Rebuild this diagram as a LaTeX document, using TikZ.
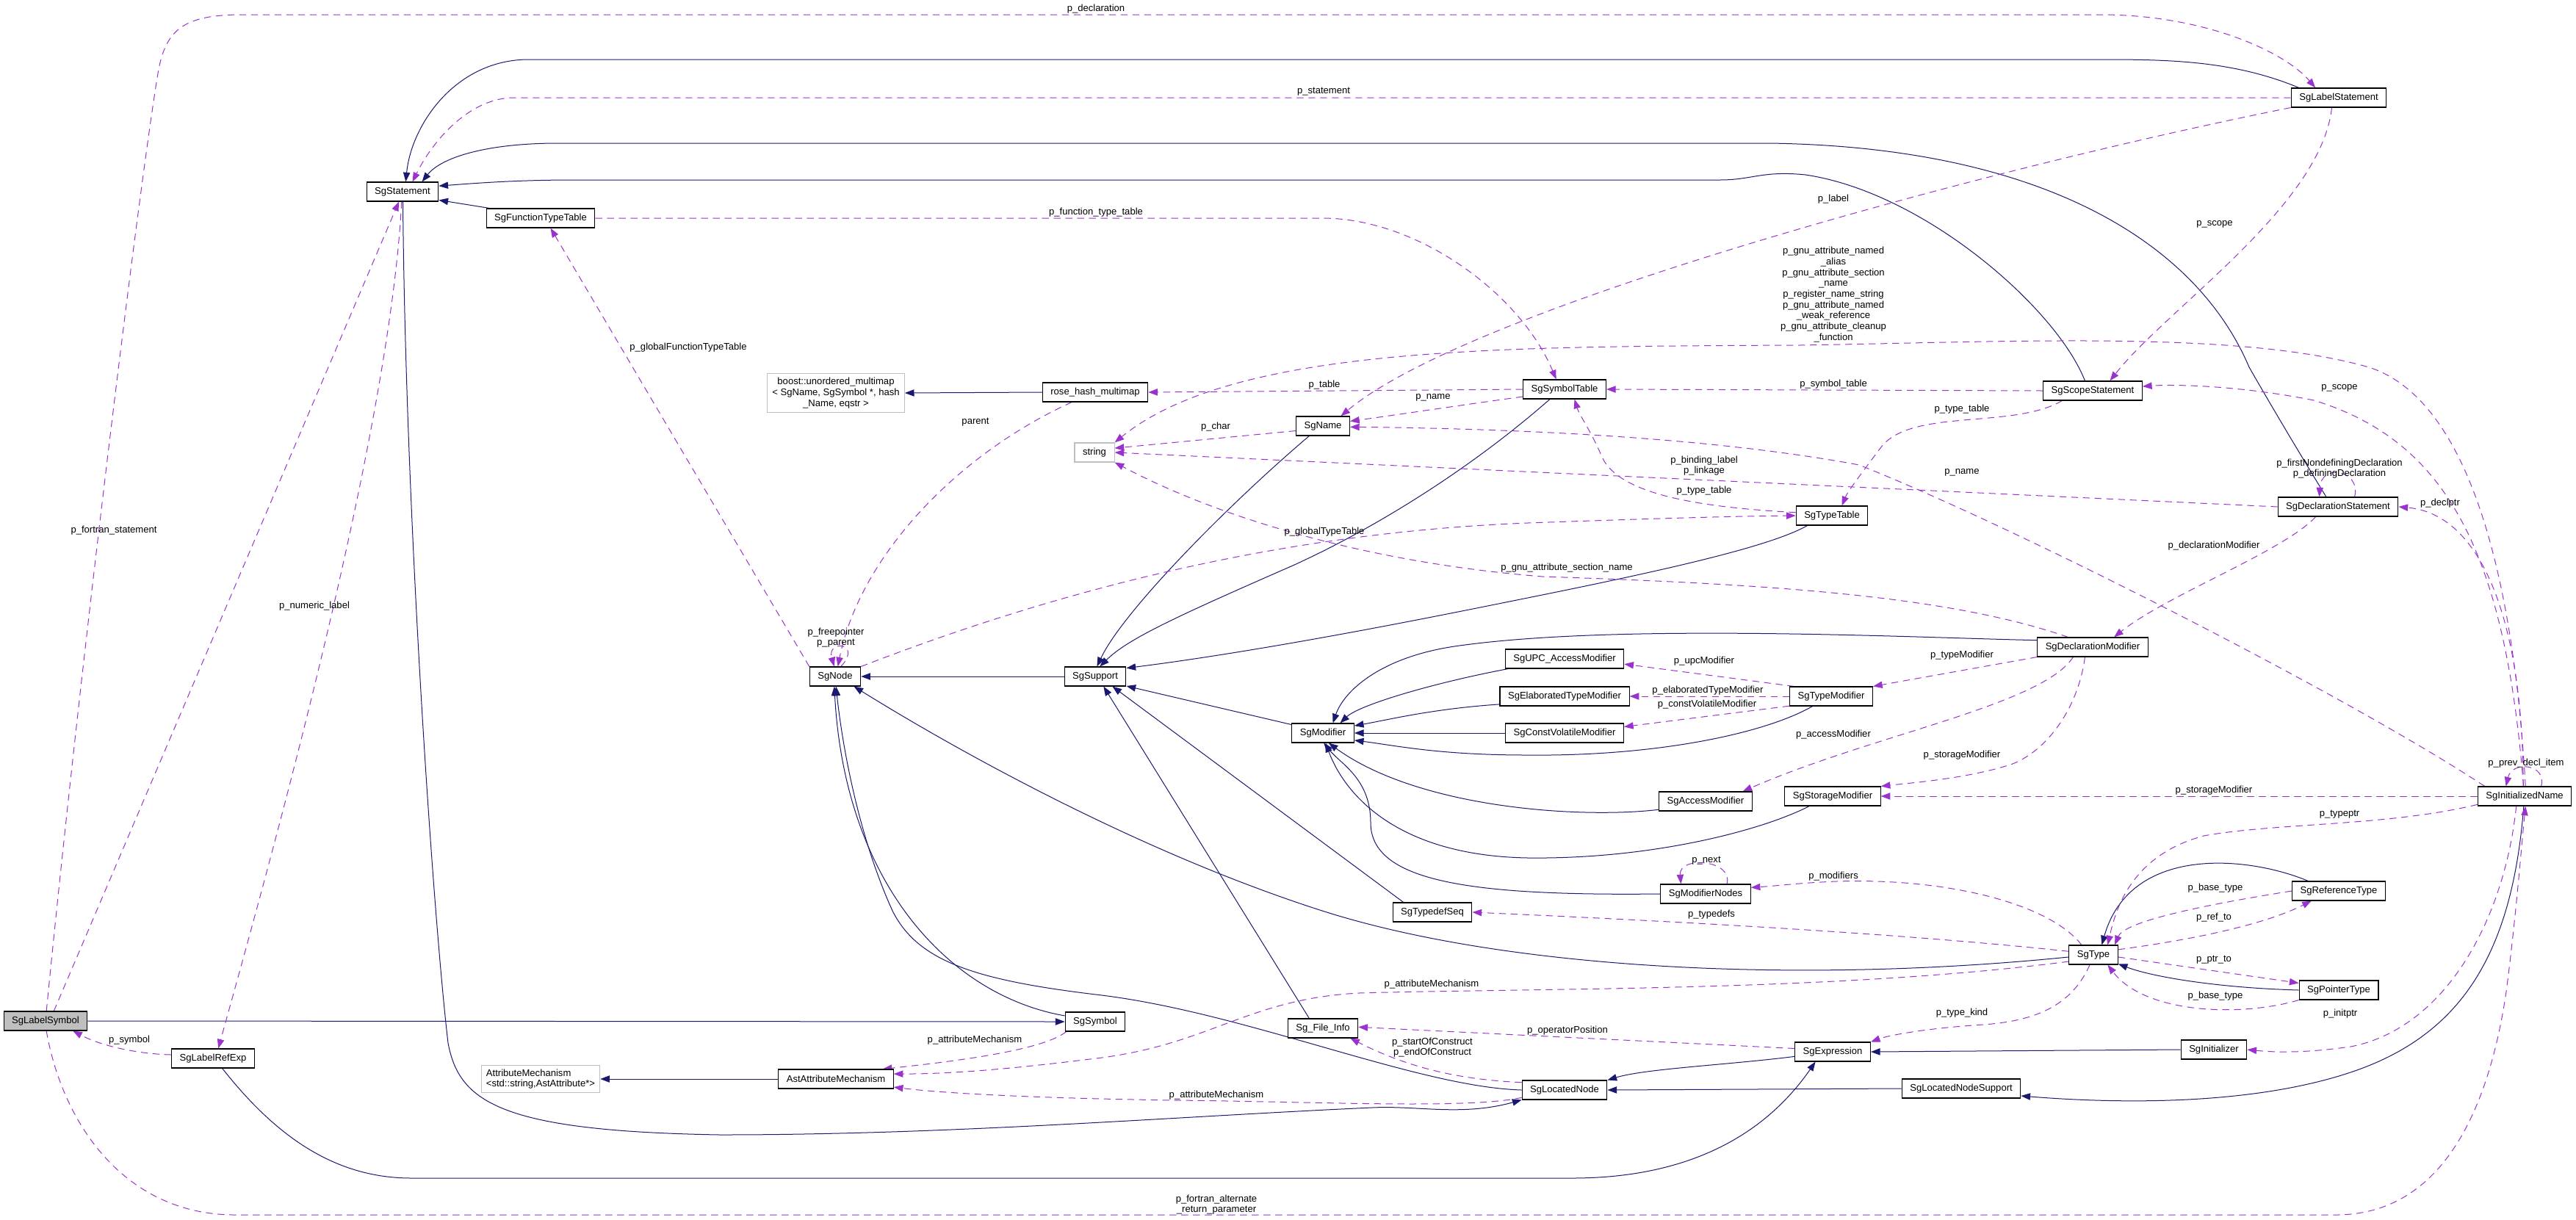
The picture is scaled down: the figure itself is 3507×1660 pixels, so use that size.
\documentclass[tikz,border=0pt]{standalone}
\usepackage{fontspec}
\setmainfont{Liberation Sans}
\usetikzlibrary{arrows.meta, backgrounds}
\definecolor{inhblue}{HTML}{191970}
\definecolor{usepurple}{HTML}{9A32CD}
\definecolor{extgrey}{HTML}{BFBFBF}
\newcommand\dotfont{\fontsize{9.8}{11}\selectfont}

\begin{document}
\begin{tikzpicture}[
    x=0.75pt, y=-0.75pt,
    cls/.style   = {rectangle, draw=black, line width=0.8pt, fill=white, font=\dotfont,
                    minimum height=19.5pt, inner xsep=8.3pt, inner ysep=2pt},
    ext/.style   = {cls, draw=extgrey},
    focus/.style = {cls, fill=extgrey},
    inh/.style   = {-{Triangle[length=9.5pt, width=7pt]}, line width=0.75pt, color=inhblue},
    uses/.style  = {-{Triangle[length=9.5pt, width=7pt]}, line width=0.75pt, color=usepurple,
                    dash pattern=on 7pt off 5pt},
    lbl/.style   = {font=\dotfont, inner sep=0pt, align=center}
  ]
  \useasboundingbox (0,0) rectangle (3507,1660);

  % ── Classes ───────────────────────────────────────────────────────────────
  \node[focus] (lblsym)   at (62,1390)   {SgLabelSymbol};
  \node[cls] (lblref)     at (290,1441)  {SgLabelRefExp};
  \node[cls] (stmt)       at (548,261)   {SgStatement};
  \node[cls] (fntab)      at (736,297)   {SgFunctionTypeTable};
  \node[ext, align=left, inner xsep=5pt, inner ysep=4pt] (attrmech) at (736,1469)
       {AttributeMechanism\\<std::string,AstAttribute*>};
  \node[cls] (astattr)    at (1138,1469) {AstAttributeMechanism};
  \node[ext, align=center, inner xsep=5pt, inner ysep=4pt] (boost) at (1138,535)
       {boost::unordered\_multimap\\< SgName, SgSymbol *, hash\\\_Name, eqstr >};
  \node[cls] (sgnode)     at (1137,921)  {SgNode};
  \node[cls] (rosehash)   at (1491,534)  {rose\_hash\_multimap};
  \node[ext] (string)     at (1490,616)  {string};
  \node[cls] (support)    at (1491,921)  {SgSupport};
  \node[cls] (symbol)     at (1491,1391) {SgSymbol};
  \node[cls] (name)       at (1801,580)  {SgName};
  \node[cls] (modifier)   at (1801,998)  {SgModifier};
  \node[cls] (fileinfo)   at (1801,1400) {Sg\_File\_Info};
  \node[cls] (typedefseq) at (1950,1242) {SgTypedefSeq};
  \node[cls] (symtab)     at (2130,530)  {SgSymbolTable};
  \node[cls] (upc)        at (2130,897)  {SgUPC\_AccessModifier};
  \node[cls] (elab)       at (2130,948)  {SgElaboratedTypeModifier};
  \node[cls] (cv)         at (2130,998)  {SgConstVolatileModifier};
  \node[cls] (located)    at (2130,1484) {SgLocatedNode};
  \node[cls] (access)     at (2322,1091) {SgAccessModifier};
  \node[cls] (modnodes)   at (2322,1217) {SgModifierNodes};
  \node[cls] (typetab)    at (2494,702)  {SgTypeTable};
  \node[cls] (typemod)    at (2493,948)  {SgTypeModifier};
  \node[cls] (storage)    at (2495,1084) {SgStorageModifier};
  \node[cls] (expr)       at (2495,1432) {SgExpression};
  \node[cls] (locsup)     at (2670,1482) {SgLocatedNodeSupport};
  \node[cls] (scope)      at (2849,532)  {SgScopeStatement};
  \node[cls] (declmod)    at (2849,881)  {SgDeclarationModifier};
  \node[cls] (type)       at (2850,1300) {SgType};
  \node[cls] (initzr)     at (3014,1429) {SgInitializer};
  \node[cls] (lblstmt)    at (3184,133)  {SgLabelStatement};
  \node[cls] (declstmt)   at (3183,690)  {SgDeclarationStatement};
  \node[cls] (reftype)    at (3184,1213) {SgReferenceType};
  \node[cls] (ptrtype)    at (3184,1348) {SgPointerType};
  \node[cls] (initname)   at (3437,1084) {SgInitializedName};

  \begin{scope}[on background layer]
  % ── Inheritance ───────────────────────────────────────────────────────────
  \draw[inh] (lblstmt.166) .. controls (3040,82) and (2950,81) .. (2858,81) -- (720,81)
             .. controls (620,81) and (560,170) .. (stmt.72);
  \draw[inh] (declstmt.140) .. controls (3120,600) and (3085,540) .. (3062,500)
             .. controls (2990,330) and (2780,200) .. (2408,195) -- (760,195)
             .. controls (660,195) and (600,215) .. (stmt.27);
  \draw[inh] (scope.128) .. controls (2800,420) and (2620,262) .. (2458,238)
             .. controls (2400,232) and (2385,245) .. (2342,245) -- (780,245)
             .. controls (700,245) and (640,250) .. (stmt.9);
  \draw[inh] (fntab.169) -- (stmt.-13);
  \draw[inh] (stmt.-88) .. controls (552,700) and (590,1250) .. (610,1420)
             .. controls (625,1500) and (680,1540) .. (980,1545)
             .. controls (1300,1545) and (1600,1520) .. (1868,1508)
             .. controls (1930,1505) and (1990,1520) .. (located.south west);
  \draw[inh] (lblref.-47) .. controls (370,1540) and (450,1604) .. (560,1604) -- (2140,1604)
             .. controls (2330,1604) and (2420,1520) .. (expr.-150);
  \draw[inh] (rosehash.west) -- (boost.east);
  \draw[inh] (support.west) -- (sgnode.east);
  \draw[inh] (lblsym.east) -- (symbol.west);
  \draw[inh] (astattr.west) -- (attrmech.east);
  \draw[inh] (symbol.169) .. controls (1290,1355) and (1150,1200) .. (sgnode.-95);
  \draw[inh] (located.west) .. controls (1930,1480) and (1700,1380) .. (1500,1355)
             .. controls (1330,1335) and (1250,1310) .. (1215,1240)
             .. controls (1165,1130) and (1145,1000) .. (sgnode.-85);
  \draw[inh] (type.185) .. controls (2450,1340) and (2050,1320) .. (1800,1240)
             .. controls (1550,1160) and (1300,1020) .. (sgnode.-28);
  \draw[inh] (name.-144) .. controls (1680,680) and (1530,830) .. (support.80);
  \draw[inh] (symtab.-146) .. controls (2000,640) and (1870,720) .. (1760,770)
             .. controls (1600,840) and (1535,870) .. (support.65);
  \draw[inh] (typetab.-158) .. controls (2400,750) and (2200,790) .. (2000,830)
             .. controls (1800,870) and (1650,895) .. (support.15);
  \draw[inh] (modifier.165) -- (support.-17);
  \draw[inh] (fileinfo.144) -- (support.-50);
  \draw[inh] (typedefseq.161) -- (support.-30);
  \draw[inh] (upc.190) .. controls (1950,930) and (1850,960) .. (modifier.30);
  \draw[inh] (declmod.173) .. controls (2600,868) and (2200,848) .. (1980,880)
             .. controls (1880,895) and (1830,940) .. (modifier.45);
  \draw[inh] (elab.187) .. controls (1950,965) and (1890,980) .. (modifier.13);
  \draw[inh] (cv.west) -- (modifier.east);
  \draw[inh] (typemod.-152) .. controls (2400,1000) and (2250,1030) .. (2078,1028)
             .. controls (1960,1028) and (1900,1015) .. (modifier.-13);
  \draw[inh] (access.190) .. controls (2150,1115) and (1930,1100) .. (modifier.-60);
  \draw[inh] (storage.-157) .. controls (2400,1130) and (2250,1170) .. (2080,1168)
             .. controls (1900,1165) and (1830,1080) .. (modifier.-75);
  \draw[inh] (modnodes.west) .. controls (2000,1220) and (1866,1200) .. (1866,1120)
             .. controls (1866,1060) and (1825,1040) .. (modifier.-85);
  \draw[inh] (expr.187) .. controls (2350,1450) and (2240,1455) .. (located.north east);
  \draw[inh] (locsup.west) -- (located.east);
  \draw[inh] (initzr.west) -- (expr.east);
  \draw[inh] (initname.-95) .. controls (3420,1300) and (3350,1410) .. (3200,1460)
             .. controls (3050,1510) and (2850,1500) .. (locsup.-7);
  \draw[inh] (reftype.162) .. controls (3060,1165) and (2900,1150) .. (type.50);
  \draw[inh] (ptrtype.west) .. controls (3020,1345) and (2930,1330) .. (type.-20);

  % ── Members ───────────────────────────────────────────────────────────────
  \draw[uses] (lblsym.85) .. controls (110,900) and (190,250) .. (215,100)
              .. controls (225,40) and (250,20) .. (330,20) -- (2860,20)
              .. controls (3000,20) and (3110,70) .. (lblstmt.157);
  \draw[uses] (lblsym.50) -- (stmt.-110);
  \draw[uses] (stmt.-95) .. controls (530,600) and (360,1200) .. (lblref.62);
  \draw[uses] (lblref.175) .. controls (190,1435) and (140,1425) .. (lblsym.-20);
  \draw[uses] (lblsym.-85) .. controls (85,1530) and (170,1654) .. (320,1654) -- (3180,1654)
              .. controls (3330,1654) and (3390,1500) .. (3412,1350)
              .. controls (3425,1250) and (3432,1160) .. (initname.-85);
  \draw[uses] (lblstmt.west) -- (700,133) .. controls (640,133) and (590,190) .. (stmt.45);
  \draw[uses] (lblstmt.south west) .. controls (2700,230) and (2000,420) .. (name.29);
  \draw[uses] (lblstmt.-125) .. controls (3160,280) and (2950,420) .. (scope.30);
  \draw[uses] (initname.96) .. controls (3410,750) and (3330,600) .. (3150,545)
              .. controls (3050,525) and (2960,523) .. (scope.5);
  \draw[uses] (scope.west) -- (symtab.east);
  \draw[uses] (scope.-162) .. controls (2740,585) and (2600,555) .. (2560,610)
              .. controls (2530,650) and (2515,670) .. (typetab.45);
  \draw[uses] (fntab.east) -- (1800,297) .. controls (1930,297) and (2070,400) .. (symtab.130);
  \draw[uses] (symtab.west) -- (rosehash.east);
  \draw[uses] (symtab.190) .. controls (2000,550) and (1900,565) .. (name.10);
  \draw[uses] (name.190) -- (string.12);
  \draw[uses] (initname.166) .. controls (3200,950) and (2750,720) .. (2531,633)
              .. controls (2300,590) and (2000,583) .. (name.-2);
  \draw[uses] (declstmt.west) -- (string.east);
  \draw[uses] (initname.85) .. controls (3420,750) and (3350,540) .. (3225,500)
              .. controls (3050,450) and (2750,465) .. (2450,470)
              .. controls (2050,472) and (1680,470) .. (string.north east);
  \draw[uses] (declmod.158) .. controls (2650,810) and (2400,795) .. (2100,785)
              .. controls (1850,765) and (1650,700) .. (string.south east);
  \draw[uses] (sgnode.north east) .. controls (1450,800) and (1750,725) .. (2080,712)
              .. controls (2250,706) and (2350,703) .. (typetab.west);
  \draw[uses] (typetab.175) .. controls (2300,690) and (2200,670) .. (2180,620)
              .. controls (2165,585) and (2150,565) .. (symtab.-45);
  \draw[uses] (initname.98) .. controls (3435,850) and (3380,700) .. (declstmt.east);
  \draw[uses] (declstmt.31) .. controls (3215,640) and (3160,630) .. (declstmt.152);
  \draw[uses] (declstmt.-156) .. controls (3110,750) and (2950,810) .. (declmod.25);
  \draw[uses] (declmod.south west) -- (typemod.north east);
  \draw[uses] (declmod.-153) .. controls (2780,960) and (2550,1000) .. (access.15);
  \draw[uses] (declmod.-128) .. controls (2830,960) and (2790,1020) .. (2740,1040)
              .. controls (2680,1060) and (2600,1066) .. (storage.north east);
  \draw[uses] (typemod.165) -- (upc.-5);
  \draw[uses] (typemod.west) -- (elab.east);
  \draw[uses] (typemod.-167) -- (cv.6);
  \draw[uses] (initname.west) -- (storage.east);
  \draw[uses] (initname.31) .. controls (3468,1040) and (3420,1035) .. (initname.152);
  \draw[uses] (initname.190) .. controls (3250,1125) and (3100,1120) .. (3000,1138)
              .. controls (2900,1165) and (2880,1240) .. (type.35);
  \draw[uses] (modnodes.25) .. controls (2360,1170) and (2285,1165) .. (modnodes.158);
  \draw[uses] (type.140) .. controls (2790,1230) and (2650,1195) .. (2500,1200)
              .. controls (2450,1202) and (2420,1206) .. (modnodes.8);
  \draw[uses] (type.172) .. controls (2600,1272) and (2300,1255) .. (typedefseq.east);
  \draw[uses] (reftype.west) .. controls (2950,1240) and (2890,1260) .. (type.25);
  \draw[uses] (type.12) .. controls (2980,1280) and (3080,1260) .. (reftype.-160);
  \draw[uses] (type.-5) -- (ptrtype.170);
  \draw[uses] (ptrtype.south west) .. controls (3050,1385) and (2920,1380) .. (type.-35);
  \draw[uses] (type.-110) .. controls (2820,1370) and (2770,1390) .. (2700,1395)
              .. controls (2620,1400) and (2570,1410) .. (expr.north east);
  \draw[uses] (initname.-130) .. controls (3410,1250) and (3330,1400) .. (3200,1425)
              .. controls (3130,1435) and (3090,1432) .. (initzr.east);
  \draw[uses] (type.-165) .. controls (2500,1350) and (2100,1345) .. (1850,1352)
              .. controls (1700,1360) and (1650,1420) .. (1500,1440)
              .. controls (1380,1455) and (1300,1462) .. (astattr.5);
  \draw[uses] (symbol.-161) .. controls (1420,1430) and (1300,1445) .. (astattr.12);
  \draw[uses] (located.-170) .. controls (2000,1510) and (1800,1500) .. (1600,1498)
              .. controls (1400,1495) and (1280,1488) .. (astattr.-8);
  \draw[uses] (located.170) .. controls (1990,1470) and (1920,1455) .. (fileinfo.-20);
  \draw[uses] (expr.175) -- (fileinfo.2);
  \draw[uses] (sgnode.60) .. controls (1175,875) and (1125,870) .. (sgnode.95);
  \draw[uses] (rosehash.-157) .. controls (1300,620) and (1170,760) .. (sgnode.75);
  \draw[uses] (sgnode.north west) -- (fntab.-45);
  \end{scope}

  % ── Member labels ─────────────────────────────────────────────────────────
  \node[lbl] (lDecl)     at (1492,12)   {p\_declaration};
  \node[lbl] (lStmt)     at (1802,125)  {p\_statement};
  \node[lbl] (lFnTab)    at (1492,289)  {p\_function\_type\_table};
  \node[lbl] (lLabel)    at (2496,271)  {p\_label};
  \node[lbl] (lScopeA)   at (3015,305)  {p\_scope};
  \node[lbl] (lGnu)      at (2496,401)  {p\_gnu\_attribute\_named\\\_alias\\p\_gnu\_attribute\_section\\\_name\\p\_register\_name\_string\\p\_gnu\_attribute\_named\\\_weak\_reference\\p\_gnu\_attribute\_cleanup\\\_function};
  \node[lbl] (lFortS)    at (155,722)   {p\_fortran\_statement};
  \node[lbl] (lGlobFn)   at (937,473)   {p\_globalFunctionTypeTable};
  \node[lbl] (lNumLbl)   at (428,825)   {p\_numeric\_label};
  \node[lbl] (lParent)   at (1328,575)  {parent};
  \node[lbl] (lTable)    at (1803,524)  {p\_table};
  \node[lbl] (lNameA)    at (1951,541)  {p\_name};
  \node[lbl] (lChar)     at (1655,581)  {p\_char};
  \node[lbl] (lSymTab)   at (2496,523)  {p\_symbol\_table};
  \node[lbl] (lTypeTabA) at (2671,557)  {p\_type\_table};
  \node[lbl] (lScopeB)   at (3185,528)  {p\_scope};
  \node[lbl] (lBind)     at (2320,634)  {p\_binding\_label\\p\_linkage};
  \node[lbl] (lTypeTabB) at (2320,668)  {p\_type\_table};
  \node[lbl] (lNameB)    at (2671,643)  {p\_name};
  \node[lbl] (lDefDecl)  at (3185,638)  {p\_firstNondefiningDeclaration\\p\_definingDeclaration};
  \node[lbl] (lDeclPtr)  at (3322,685)  {p\_declptr};
  \node[lbl] (lGlobTT)   at (1803,724)  {p\_globalTypeTable};
  \node[lbl] (lDeclMod)  at (3014,743)  {p\_declarationModifier};
  \node[lbl] (lSection)  at (2133,773)  {p\_gnu\_attribute\_section\_name};
  \node[lbl] (lFree)     at (1138,868)  {p\_freepointer\\p\_parent};
  \node[lbl] (lTypeMod)  at (2671,892)  {p\_typeModifier};
  \node[lbl] (lUpc)      at (2320,900)  {p\_upcModifier};
  \node[lbl] (lElab)     at (2325,940)  {p\_elaboratedTypeModifier};
  \node[lbl] (lCv)       at (2324,959)  {p\_constVolatileModifier};
  \node[lbl] (lAccess)   at (2496,1000) {p\_accessModifier};
  \node[lbl] (lStorA)    at (2671,1028) {p\_storageModifier};
  \node[lbl] (lPrev)     at (3439,1039) {p\_prev\_decl\_item};
  \node[lbl] (lStorB)    at (3014,1076) {p\_storageModifier};
  \node[lbl] (lTypePtr)  at (3185,1109) {p\_typeptr};
  \node[lbl] (lNext)     at (2323,1172) {p\_next};
  \node[lbl] (lMods)     at (2496,1193) {p\_modifiers};
  \node[lbl] (lBaseA)    at (3016,1209) {p\_base\_type};
  \node[lbl] (lTypedefs) at (2330,1245) {p\_typedefs};
  \node[lbl] (lRefTo)    at (3014,1249) {p\_ref\_to};
  \node[lbl] (lPtrTo)    at (3014,1307) {p\_ptr\_to};
  \node[lbl] (lAttrA)    at (1949,1340) {p\_attributeMechanism};
  \node[lbl] (lBaseB)    at (3016,1356) {p\_base\_type};
  \node[lbl] (lKind)     at (2671,1379) {p\_type\_kind};
  \node[lbl] (lInit)     at (3186,1380) {p\_initptr};
  \node[lbl] (lOpPos)    at (2134,1403) {p\_operatorPosition};
  \node[lbl] (lSym)      at (176,1416)  {p\_symbol};
  \node[lbl] (lAttrB)    at (1327,1416) {p\_attributeMechanism};
  \node[lbl] (lConstr)   at (1950,1426) {p\_startOfConstruct\\p\_endOfConstruct};
  \node[lbl] (lAttrC)    at (1656,1491) {p\_attributeMechanism};
  \node[lbl] (lAltRet)   at (1656,1640) {p\_fortran\_alternate\\\_return\_parameter};

\end{tikzpicture}
\end{document}
